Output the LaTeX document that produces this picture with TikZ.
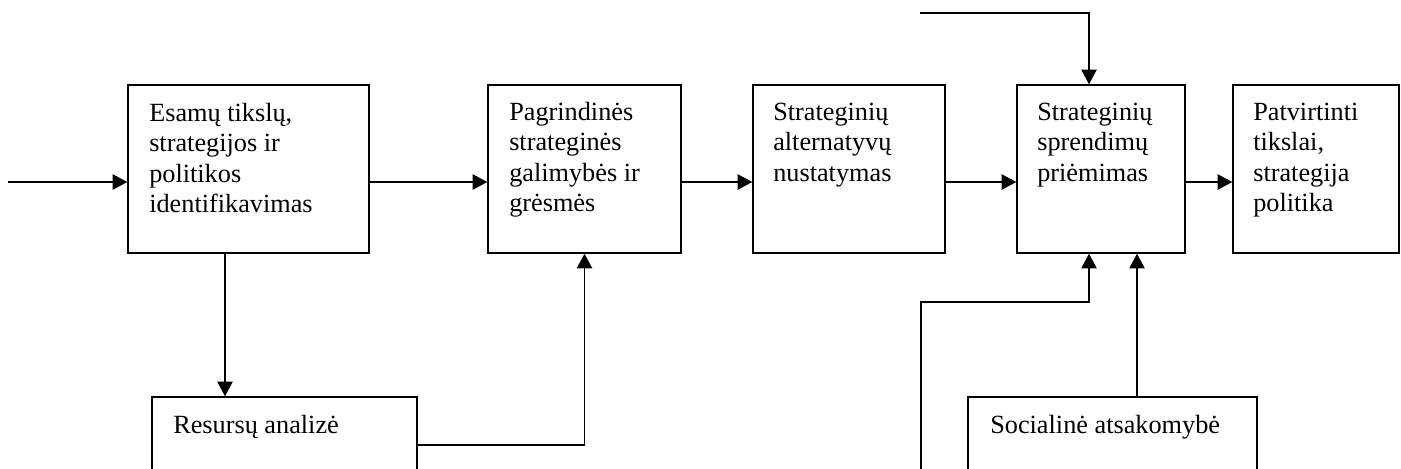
\documentclass[tikz,border=0pt]{standalone}
\usepackage{fontspec}
\setmainfont{Liberation Serif}
\usetikzlibrary{arrows.meta,calc}
\begin{document}
\begin{tikzpicture}[x=0.75pt,y=-0.75pt,
  box/.style={draw,line width=1.1pt,inner sep=0pt,minimum width=#1},
  txt/.style={inner sep=0pt,anchor=north west,align=left,font=\fontsize{19.7}{22.9}\selectfont},
  arr/.style={line width=1.1pt,-{Triangle[length=11pt,width=11.5pt]}},
  ln/.style={line width=1.1pt}]
\useasboundingbox (0,0) rectangle (1401,468);
\clip (0,0) rectangle (1401,468);
% main boxes
\node[box=241*0.75pt,minimum height=168*0.75pt] (b1) at (248.5,169) {};
\node[box=193*0.75pt,minimum height=168*0.75pt] (b2) at (584.5,169) {};
\node[box=192*0.75pt,minimum height=168*0.75pt] (b3) at (849,169) {};
\node[box=168*0.75pt,minimum height=168*0.75pt] (b4) at (1101,169) {};
\node[box=166*0.75pt,minimum height=168*0.75pt] (b5) at (1316,169) {};
% bottom boxes (cut by page edge)
\node[box=265*0.75pt,minimum height=120*0.75pt] (res) at (284.5,457) {};
\node[box=289*0.75pt,minimum height=120*0.75pt] (soc) at (1112.5,457) {};
% texts
\node[txt] (t1) at (149,99.6) {\strut Esamų tikslų,\\strategijos ir\\politikos\\identifikavimas};
\node[txt] (t2) at (509,98.6) {\strut Pagrindinės\\strateginės\\galimybės ir\\grėsmės};
\node[txt] (t3) at (773,98.6) {\strut Strateginių\\alternatyvų\\nustatymas};
\node[txt] (t4) at (1037,98.6) {\strut Strateginių\\sprendimų\\priėmimas};
\node[txt] (t5) at (1253,98.6) {\strut Patvirtinti\\tikslai,\\strategija\\politika};
\node[txt] (tr) at (173,411.6) {\strut Resursų analizė};
\node[txt] (ts) at (990,411.6) {\strut Socialinė atsakomybė};
% free ends
\coordinate (row) at (0,182);
\coordinate (in1) at (8,182);
\coordinate (topin) at (920,13);
\coordinate (botin) at (921,475);
% connectors
\draw[arr] (in1) -- (row -| b1.west);
\draw[arr] (row -| b1.east) -- (row -| b2.west);
\draw[arr] (row -| b2.east) -- (row -| b3.west);
\draw[arr] (row -| b3.east) -- (row -| b4.west);
\draw[arr] (row -| b4.east) -- (row -| b5.west);
\draw[arr] (225,0 |- b1.south) -- (225,0 |- res.north);
\draw[arr] (res.east |- 0,445) -| (b2.south);
\draw[arr] (topin) -| (1089,0 |- b4.north);
\draw[arr] (botin) |- (1000,302) -| (1089,0 |- b4.south);
\draw[arr] (1137,0 |- soc.north) -- (1137,0 |- b4.south);
\end{tikzpicture}
\end{document}
